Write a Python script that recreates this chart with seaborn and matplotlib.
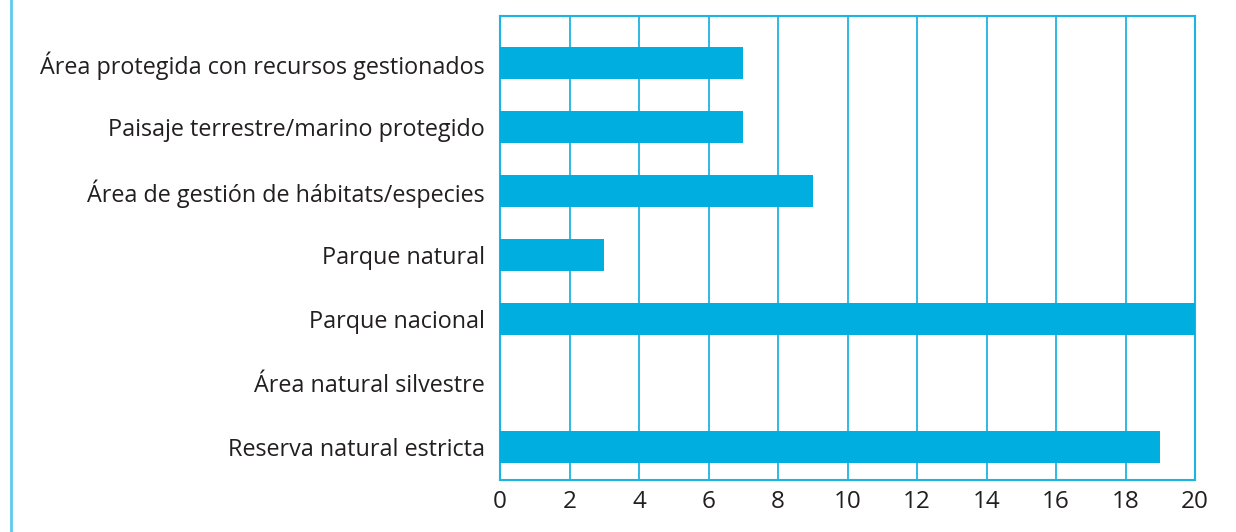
import matplotlib
matplotlib.use("Agg")
import matplotlib.pyplot as plt
import seaborn as sns
import pandas as pd

categories = [
    "Área protegida con recursos gestionados",
    "Paisaje terrestre/marino protegido",
    "Área de gestión de hábitats/especies",
    "Parque natural",
    "Parque nacional",
    "Área natural silvestre",
    "Reserva natural estricta",
]
values = [7, 7, 9, 3, 20, 0, 19]
xticks = [0, 2, 4, 6, 8, 10, 12, 14, 16, 18, 20]

sns.set_style("white")
plt.rcParams['font.family'] = ['Open Sans', 'DejaVu Sans']

BAR = "#00AEDF"
LINE = "#1CB5E3"
TEXT = "#231F20"

df = pd.DataFrame({"cat": categories, "val": values})

fig = plt.figure(figsize=(12.36, 5.32), dpi=100)
ax = fig.add_axes([500/1236, 1-480/532, 695/1236, 464/532])
sns.barplot(data=df, x="val", y="cat", orient="h", color=BAR, width=0.5,
            saturation=1, linewidth=0, ax=ax, zorder=3)
ax.set_xlim(0, 20)
ax.set_ylim(6.516, -0.734)
ax.set_xticks(xticks)
ax.set_xticklabels([str(t) for t in xticks])
ax.set_xlabel("")
ax.set_ylabel("")
ax.grid(axis="x", color=LINE, linewidth=1.3, zorder=0)
ax.set_axisbelow(True)
for s in ax.spines.values():
    s.set_color(LINE)
    s.set_linewidth(1.5)
ax.tick_params(axis="x", colors=LINE, length=5, width=1.3, direction="out",
               labelcolor=TEXT, labelsize=17.5, pad=2)
ax.tick_params(axis="y", length=0, labelcolor=TEXT, labelsize=16.8, pad=11)

# decorative left border line
fig.add_artist(plt.Line2D([10.5/1236, 10.5/1236], [0, 1], color="#5CCBF0",
                          linewidth=2, transform=fig.transFigure))

fig.savefig("out.png", dpi=100, facecolor="white")
